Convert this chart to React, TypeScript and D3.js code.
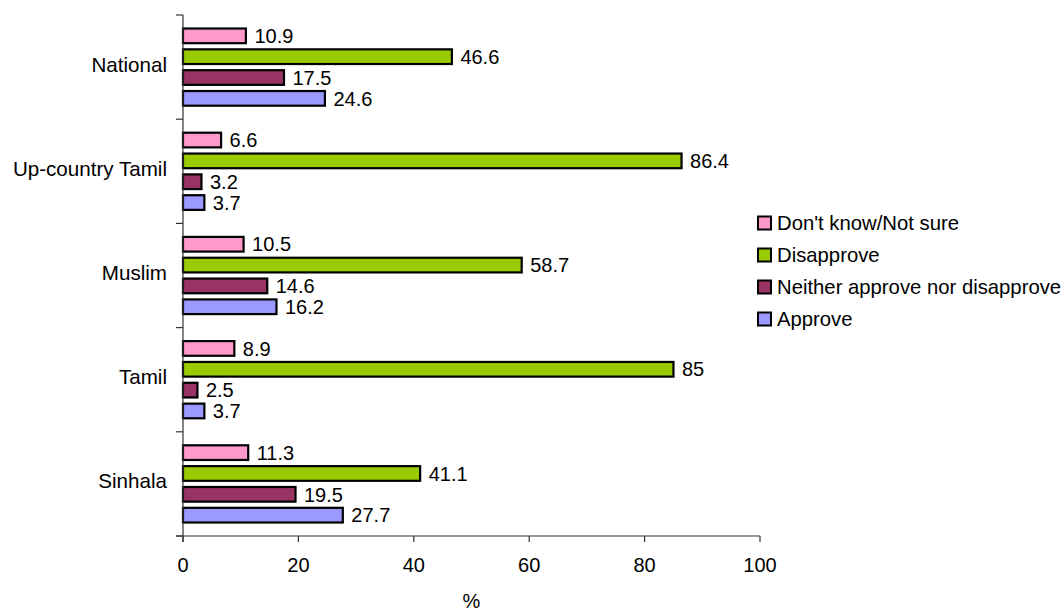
import React from "react";
import * as d3 from "d3";

const categories = ["National", "Up-country Tamil", "Muslim", "Tamil", "Sinhala"];
const seriesNames = ["Don't know/Not sure", "Disapprove", "Neither approve nor disapprove", "Approve"];
const dontKnow = [10.9, 6.6, 10.5, 8.9, 11.3];
const disapprove = [46.6, 86.4, 58.7, 85, 41.1];
const neither = [17.5, 3.2, 14.6, 2.5, 19.5];
const approve = [24.6, 3.7, 16.2, 3.7, 27.7];
const seriesColors = ["#FF99CC", "#99CC00", "#993366", "#9999FF"];
const xTicks = [0, 20, 40, 60, 80, 100];
const xTitle = "%";

const W = 1064;
const H = 612;
const FONT = "'Liberation Sans', Arial, sans-serif";
const FS_NUM = 20;
const FS_CAT = 20.6;
const FS_LEG = 20.3;

export default function App() {
  const seriesValues = [dontKnow, disapprove, neither, approve];
  const x = d3.scaleLinear().domain([0, 100]).range([183, 760]);
  const y = d3.scaleBand().domain(categories).range([15, 536]).paddingInner(0).paddingOuter(0);
  const inner = d3
    .scaleBand()
    .domain(seriesNames)
    .range([0, y.bandwidth()])
    .paddingInner(0.2)
    .paddingOuter(0.6);
  const bw = inner.bandwidth();
  const bandEdges = [...categories.map((c) => y(c) as number), 536];
  const legendY = [223, 255, 287, 319];

  return (
    <svg
      width={W}
      height={H}
      style={{ position: "absolute", left: 0, top: 0, background: "#fff" }}
      fontFamily={FONT}
    >
      {/* bars */}
      {categories.map((c, ci) => (
        <g key={c}>
          {seriesNames.map((s, si) => {
            const v = seriesValues[si][ci];
            const top = (y(c) as number) + (inner(s) as number);
            return (
              <g key={s}>
                <rect
                  x={x(0)}
                  y={top + 1}
                  width={x(v) - x(0)}
                  height={bw - 2}
                  fill={seriesColors[si]}
                  stroke="#000"
                  strokeWidth={2.2}
                />
                <text
                  x={x(v) + 8.5}
                  y={top + bw / 2}
                  dy="0.36em"
                  fontSize={FS_NUM}
                  fill="#000"
                >
                  {v}
                </text>
              </g>
            );
          })}
          <text
            x={167}
            y={(y(c) as number) + y.bandwidth() / 2 - 3}
            dy="0.36em"
            textAnchor="end"
            fontSize={FS_CAT}
            fill="#000"
          >
            {c}
          </text>
        </g>
      ))}

      {/* y axis */}
      <line x1={183} x2={183} y1={15} y2={542} stroke="#333" strokeWidth={1.2} />
      {bandEdges.map((e, i) => (
        <line key={i} x1={176} x2={183} y1={e} y2={e} stroke="#333" strokeWidth={1.2} />
      ))}

      {/* x axis */}
      <line x1={176} x2={760} y1={536} y2={536} stroke="#333" strokeWidth={1.2} />
      {xTicks.map((t) => (
        <g key={t}>
          <line x1={x(t)} x2={x(t)} y1={536} y2={542} stroke="#333" strokeWidth={1.2} />
          <text x={x(t)} y={565} dy="0.36em" textAnchor="middle" fontSize={FS_NUM} fill="#000">
            {t}
          </text>
        </g>
      ))}
      <text x={(x(0) + x(100)) / 2} y={601} dy="0.36em" textAnchor="middle" fontSize={FS_NUM} fill="#000">
        {xTitle}
      </text>

      {/* legend */}
      {seriesNames.map((s, si) => (
        <g key={s}>
          <rect
            x={758}
            y={legendY[si] - 6.5}
            width={13}
            height={13}
            fill={seriesColors[si]}
            stroke="#000"
            strokeWidth={2}
          />
          <text x={777} y={legendY[si]} dy="0.36em" fontSize={FS_LEG} fill="#000">
            {s}
          </text>
        </g>
      ))}
    </svg>
  );
}
